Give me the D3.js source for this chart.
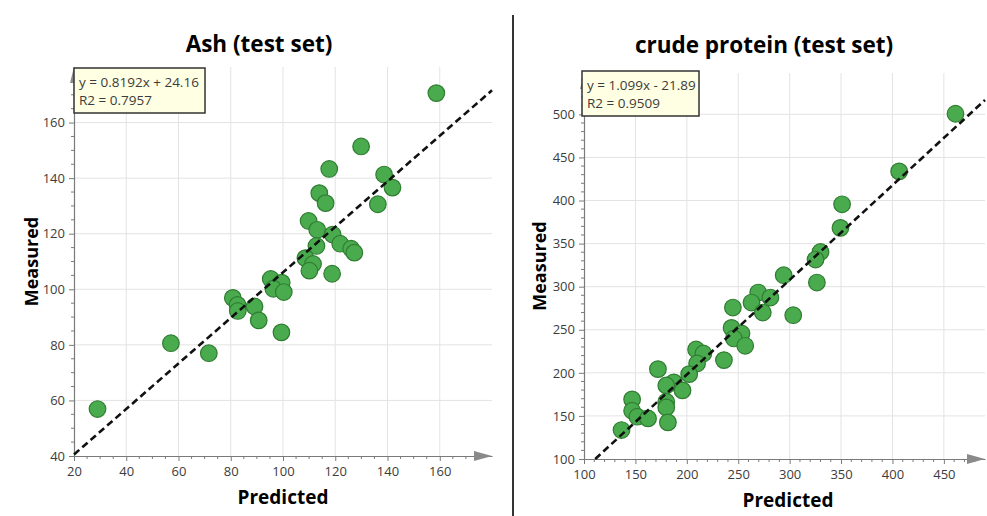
<!DOCTYPE html>
<html>
<head>
<meta charset="utf-8">
<script src="https://cdn.jsdelivr.net/npm/d3@7"></script>
<style>
  body { margin: 0; background: #fff; }
  svg text { font-family: "Open Sans", "Noto Sans", "DejaVu Sans", sans-serif; }
</style>
</head>
<body>
<svg id="chart" width="987" height="516"></svg>
<script>
// Ash (test set): predicted vs measured values
const ashPredicted = [158.7, 129.9, 117.7, 138.7, 141.9, 113.9, 116.3, 136.3, 109.8, 113.1, 119.0,
  121.9, 112.8, 126.1, 127.3, 108.6, 111.5, 110.1, 118.8, 95.3, 99.5, 96.3, 100.3, 80.8, 82.6,
  82.7, 89.1, 90.7, 99.4, 57.1, 71.6, 29.0];
const ashMeasured = [170.6, 151.4, 143.3, 141.3, 136.6, 134.6, 131.0, 130.6, 124.6, 121.4, 119.7,
  116.4, 115.6, 114.6, 113.2, 111.2, 109.1, 106.7, 105.6, 103.7, 102.4, 100.2, 99.0, 96.9, 94.4,
  92.2, 93.8, 88.8, 84.5, 80.6, 77.0, 56.9];
const ashTicksX = [20, 40, 60, 80, 100, 120, 140, 160];
const ashTicksY = [40, 60, 80, 100, 120, 140, 160];
const ashSlope = 0.8192, ashIntercept = 24.16, ashR2 = 0.7957;

// Crude protein (test set): predicted vs measured values
const cpPredicted = [461.3, 406.5, 351.0, 349.4, 330.0, 325.2, 326.5, 294.2, 269.4, 281.3, 262.9,
  244.8, 273.9, 303.5, 243.5, 253.2, 245.8, 256.8, 209.0, 216.1, 210.0, 236.1, 202.3, 171.9,
  187.4, 180.0, 195.8, 146.8, 180.0, 180.0, 146.8, 151.9, 162.3, 181.6, 136.5];
const cpMeasured = [500.7, 433.8, 395.6, 368.2, 340.3, 331.5, 304.8, 313.3, 293.2, 287.4, 281.6,
  275.8, 270.0, 266.9, 252.2, 245.7, 239.9, 231.4, 227.1, 222.5, 210.9, 214.8, 198.5, 204.3,
  188.9, 185.4, 179.6, 169.2, 166.5, 159.9, 156.0, 149.1, 147.1, 142.5, 133.6];
const cpTicksX = [100, 150, 200, 250, 300, 350, 400, 450];
const cpTicksY = [100, 150, 200, 250, 300, 350, 400, 450, 500];
const cpSlope = 1.099, cpIntercept = -21.89, cpR2 = 0.9509;

const panels = [
  {
    title: "Ash (test set)", titleX: 259, titleY: 52,
    xs: ashPredicted, ys: ashMeasured, ticksX: ashTicksX, ticksY: ashTicksY,
    slope: ashSlope, intercept: ashIntercept, r2: ashR2,
    xDomain: [20, 180], yDomain: [40, 180], minorX: 5, minorY: 5,
    xRange: [74, 492], yRange: [456, 67],
    box: { x: 74, y: 68, w: 131, h: 45 },
    xLabelX: 283, yLabelX: 38
  },
  {
    title: "crude protein (test set)", titleX: 764, titleY: 53,
    xs: cpPredicted, ys: cpMeasured, ticksX: cpTicksX, ticksY: cpTicksY,
    slope: cpSlope, intercept: cpIntercept, r2: cpR2,
    xDomain: [100, 490], yDomain: [100, 548], minorX: 10, minorY: 10,
    xRange: [584, 985], yRange: [459, 73],
    box: { x: 582, y: 71, w: 117, h: 45 },
    xLabelX: 788, yLabelX: 546
  }
];

const svg = d3.select("#chart");
const axisColor = "#7a7a7a";

function fmtEq(m, b) {
  return "y = " + m + "x " + (b < 0 ? "- " : "+ ") + Math.abs(b);
}

panels.forEach(p => {
  const x = d3.scaleLinear().domain(p.xDomain).range(p.xRange);
  const y = d3.scaleLinear().domain(p.yDomain).range(p.yRange);
  const g = svg.append("g");
  const x0 = p.xRange[0], y0 = p.yRange[0];

  // grid
  g.append("g").selectAll("line").data(p.ticksX.slice(1)).join("line")
    .attr("x1", d => x(d)).attr("x2", d => x(d))
    .attr("y1", y0).attr("y2", p.yRange[1])
    .attr("stroke", "#e3e3e3").attr("stroke-width", 1);
  g.append("g").selectAll("line").data(p.ticksY.slice(1)).join("line")
    .attr("y1", d => y(d)).attr("y2", d => y(d))
    .attr("x1", x0).attr("x2", p.xRange[1])
    .attr("stroke", "#e3e3e3").attr("stroke-width", 1);

  // x axis: major + minor ticks
  const xAxis = g.append("g").attr("transform", `translate(0,${y0})`)
    .call(d3.axisBottom(x).tickValues(p.ticksX).tickSize(5).tickPadding(6).tickSizeOuter(0));
  const xMinor = d3.range(p.xDomain[0], p.xDomain[1], p.minorX).filter(v => !p.ticksX.includes(v));
  g.append("g").selectAll("line").data(xMinor).join("line")
    .attr("x1", d => x(d)).attr("x2", d => x(d)).attr("y1", y0).attr("y2", y0 + 3)
    .attr("stroke", axisColor);

  // y axis: major + minor ticks
  const yAxis = g.append("g").attr("transform", `translate(${x0},0)`)
    .call(d3.axisLeft(y).tickValues(p.ticksY).tickSize(5).tickPadding(4).tickSizeOuter(0));
  const yMinor = d3.range(p.yDomain[0], p.yDomain[1] - 3, p.minorY).filter(v => !p.ticksY.includes(v));
  g.append("g").selectAll("line").data(yMinor).join("line")
    .attr("y1", d => y(d)).attr("y2", d => y(d)).attr("x1", x0).attr("x2", x0 - 3)
    .attr("stroke", axisColor);

  [xAxis, yAxis].forEach(a => {
    a.select(".domain").attr("stroke", axisColor).attr("stroke-width", 1.2);
    a.selectAll(".tick line").attr("stroke", axisColor);
    a.selectAll(".tick text").attr("fill", "#3c3c3c").style("font-size", "13px");
  });

  // axis arrow heads
  const xt = p.xRange[1];
  g.append("path").attr("d", `M${xt},${y0} L${xt - 18},${y0 - 5} L${xt - 18},${y0 + 5} Z`).attr("fill", "#8a8a8a");
  const yt = p.yRange[1];
  g.append("path").attr("d", `M${x0},${yt} L${x0 - 4},${yt + 16} L${x0 + 4},${yt + 16} Z`).attr("fill", "#8a8a8a");

  // points
  g.append("g").selectAll("circle").data(p.xs.map((v, i) => [v, p.ys[i]])).join("circle")
    .attr("cx", d => x(d[0])).attr("cy", d => y(d[1])).attr("r", 8.3)
    .attr("fill", "#4aab4e").attr("stroke", "#2f7d31").attr("stroke-width", 1.2);

  // fitted line, limited to the plot area
  const xa = Math.max(p.xDomain[0], (p.yDomain[0] - p.intercept) / p.slope);
  const xb = Math.min(p.xDomain[1], (p.yDomain[1] - p.intercept) / p.slope);
  g.append("line")
    .attr("x1", x(xa)).attr("y1", y(p.slope * xa + p.intercept))
    .attr("x2", x(xb)).attr("y2", y(p.slope * xb + p.intercept))
    .attr("stroke", "#111").attr("stroke-width", 2.6).attr("stroke-dasharray", "7,4");

  // equation box
  g.append("rect").attr("x", p.box.x).attr("y", p.box.y).attr("width", p.box.w).attr("height", p.box.h)
    .attr("fill", "#ffffe4").attr("stroke", "#333").attr("stroke-width", 1.5);
  g.append("text").attr("x", p.box.x + 5).attr("y", p.box.y + 19)
    .attr("fill", "#3c3c3c").style("font-size", "13.5px").text(fmtEq(p.slope, p.intercept));
  g.append("text").attr("x", p.box.x + 5).attr("y", p.box.y + 37)
    .attr("fill", "#3c3c3c").style("font-size", "13.5px").text("R2 = " + p.r2);

  // titles and axis labels
  g.append("text").attr("x", p.titleX).attr("y", p.titleY).attr("text-anchor", "middle")
    .style("font-size", "22.5px").style("font-weight", "bold").attr("fill", "#000").text(p.title);
  g.append("text").attr("x", p.xLabelX).attr("y", y0 + 48).attr("text-anchor", "middle")
    .style("font-size", "19px").style("font-weight", "bold").attr("fill", "#000").text("Predicted");
  g.append("text").attr("transform", `translate(${p.yLabelX},${(p.yRange[0] + p.yRange[1]) / 2}) rotate(-90)`)
    .attr("text-anchor", "middle")
    .style("font-size", "18px").style("font-weight", "bold").attr("fill", "#000").text("Measured");
});

// divider between the two panels
svg.append("line").attr("x1", 513).attr("x2", 513).attr("y1", 15).attr("y2", 516)
  .attr("stroke", "#000").attr("stroke-width", 1.6);
</script>
</body>
</html>
